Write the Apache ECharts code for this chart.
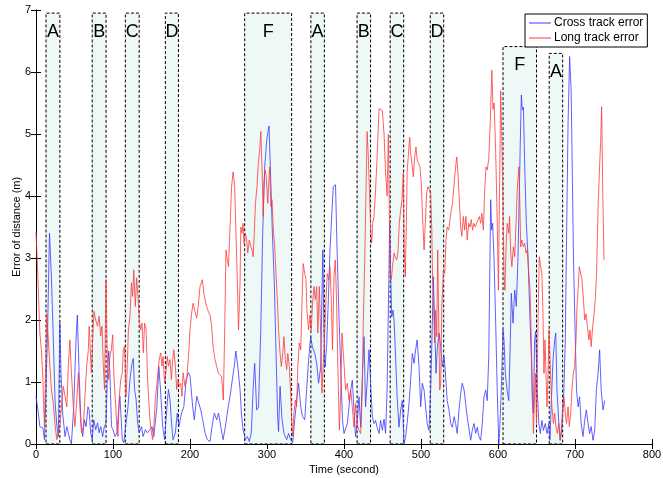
<!DOCTYPE html>
<html><head><meta charset="utf-8">
<script src="https://cdn.jsdelivr.net/npm/echarts@6/dist/echarts.min.js"></script>
<style>html,body{margin:0;padding:0;background:#fff}#c{width:663px;height:478px}</style>
</head><body><div id="c"></div>
<script>
// Cross track error (blue): time (s) and error (m)
const crossT = [0,3,5,9,11,13,15,17.5,20,22.5,24.7,27,29,31,32.5,34.6,37.7,40,42,44,46,49,52,53.7,56,58.4,60.6,63,65,67.5,69,71,73,75,77.5,80,82,84,86.6,88.7,91,92.6,94.4,96,98,100,102.6,105,107,109,112,114,117,119.5,122,124.7,126.4,128,130,132,134,137,139,142,144.6,148,150.6,153,157,159.5,162,164.5,167,170,172,174,176,178,181,183.5,185.7,189,192,195,198,200,203.5,205.6,208.7,211,214,216.5,219.5,222.5,226,228.6,231.6,234.6,237,240,243,246,249,252,255,257.6,259.5,262,265,267,269,272,274.5,277,279.6,282,284,286.6,289,291.8,294.4,297,299.6,302.6,305,307,309.5,311.7,313.8,315,317,319.5,322,325.6,328,330.8,333.4,336,338.5,341,343.8,346,349,351.5,354,356.7,359,362,364.5,367,369.7,372.5,374,375.5,377.5,379.6,381.8,384,386,389,391,393.5,395.7,398,400,404.3,408.7,410.8,413,415,417,419.5,421.7,423.8,426,428,430,432.5,434.6,436.8,439,441,443,445.5,447.6,449.8,452,454,456,458,459.3,460.6,462,463.6,465,467,469,471.4,473.6,475.7,478,480,482,484.4,486.6,488.7,491,493,495,497.4,499.6,501.7,504,506,508,510.4,512.6,514.7,516,517.7,519.5,521,523.4,525.6,527.7,530,532,534,536.4,538.6,540.7,543,545,547,549.4,551.6,553.6,556,558,560,562,564.5,566.6,568.8,571,573,575.3,577.5,579.6,581.8,584,586,588,589.6,590.5,591.8,593,594.8,597,599,601,602,604.3,606.5,607.8,609.5,611.7,614,616,617.3,619.5,621.7,623.8,626,627.3,629,630.3,631.6,633,634.7,636.8,639,641,643.3,644.6,646,647.6,649,651,653,655,657,659,661.4,663.6,666,667.5,669,671.4,673.6,675,676.6,679,681,683,685,687.4,689,691,693,695,696.5,698,700.4,702,704,706,708,710.4,712.6,714.7,717,719,721,723.4,725.6,727.7,730,732,734,736.4,738.6];
const crossV = [0.77,0.5,0.28,0.26,0.07,0.04,1.8,3.4,2.7,1.7,0.7,0.3,0.12,1.95,1.15,0.5,0.12,0.28,0.18,0.07,0,0.6,1.68,2.08,1.15,0.34,0.12,0.39,0.28,0.6,0.55,0.18,0.07,0.39,0.23,0.34,0.18,0.28,0.12,0.28,0.34,1.04,1.5,1.15,0.28,0.23,0.12,0.18,0.5,0.77,0.07,0.02,0.34,0.6,1.04,1.3,1.38,0.88,0.72,0.34,0.18,0.28,0.12,0.23,0.18,0.23,0.28,0.12,0.6,1.25,0.82,0.28,0.07,0.6,0.88,0.72,0.34,0.07,0.18,0.5,0.28,0.5,0.6,1.04,1.15,1.1,0.6,0.39,0.77,0.77,0.55,0.39,0.18,0.07,0.04,0.28,0.5,0.39,0.5,0.28,0.07,0.28,0.55,0.77,1.04,1.26,1.5,1.26,0.88,0.45,0.23,0.07,0.12,0.04,0.18,0.88,1.3,0.55,0.6,1.79,3.4,4.47,4.9,5.13,4.2,3.4,2.6,1.5,0.44,0.2,0.93,0.4,0.17,0.07,0.17,0.07,0.02,0.39,0.7,0.98,0.6,0.45,0.39,0.88,1.35,1.73,1.57,1.46,1.3,0.98,1.24,3.13,1.78,1.24,1.6,2.3,3.13,3.66,4.15,4.18,3.13,2.06,1.24,0.39,0.17,0.33,0.87,1.03,0.55,0.12,0.33,0.76,0.27,1.09,1.73,0.6,0.98,1.52,0.98,0.44,0.33,0.38,0.27,0.17,0.38,0.22,0.4,0.17,0.87,2.48,3.56,2.75,2.05,2.16,2.0,1.41,0.76,0.27,0.55,0.7,0,0.12,0.33,0.65,1.03,1.46,1.3,1.52,1.68,1.25,0.6,0.98,0.87,0.6,0.33,0.22,0.87,1.95,2.7,1.95,1.14,1.52,1.79,1.57,1.25,1.41,1.09,0.7,0.55,0.33,0.27,0.44,0.33,0.17,0.55,0.82,0.98,0.87,0.65,0.44,0.27,0.06,0.22,0.33,0.17,0.27,0.12,0.06,0.33,0.76,0.87,0.7,1.41,3.02,3.94,3.45,3.56,3.0,1.95,0.87,0,0.17,0.87,1.84,1.68,1.14,0.87,0.7,1.68,2.43,1.95,2.48,2.22,3.02,3.83,4.9,5.63,5.39,5.43,4.47,3.56,3.02,2.22,1.41,0.7,0.5,1.68,1.82,0.87,0.33,0.17,0.38,0.22,0.33,0.17,0.33,0.06,0.6,1.35,1.68,1.79,0.87,0.33,0.06,0.28,0.65,1.68,3.29,5.18,6.25,5.7,4.37,3.02,1.68,0.87,0.6,0.76,0.33,0.12,0.38,0.55,0.33,0.17,0.28,0.06,0.22,0.87,1.14,1.52,0.87,0.55,0.7];
// Long track error (red)
const longT = [0,1.5,3,5,7,9,10,11,12.5,14,16,18,20,22.5,25,27,29,31,33,35.5,37.7,40,42,44,46,48.5,50.6,53,55,57,59,61.5,63.6,65.8,68,69,70,71.8,73.6,75.3,77.5,80,82,84,85.7,87.4,89,91,92.6,94.4,96,97.8,99.6,101,103,105,106.5,108,110,112,113.4,115,117,118.6,120,122,124,125.5,127,129,130.7,132.5,134,136,137.7,139.4,141,143,144.6,146.3,148,150,151.5,153,155,156.7,158.4,160,162,163.6,165,167,169,170.5,172,174,175.8,177.5,179,181,182.7,184.4,186,188,189.6,191,193.5,195.7,198,200,202,204,206.5,208.7,210.8,213,216,218,221,224,226,228,230,232.5,234.7,236.8,239,241,243.3,245,246.7,248.5,250,252,254,256,258,259.7,261.5,263,265,266,267.5,269,270,272,273.6,275,277,279,280.5,282,283.5,285,287,288.7,290.5,292,293.5,295,296,297.4,299,301,302,303.5,305,306.5,308,310,311.7,313.4,315,317,318.6,320.4,322,323.8,325.6,327,329,330.8,332,333.4,335,336.8,338.5,340,342,343.8,345.5,347,349,350.6,352,354,355.8,357.5,359,361,362.7,364.5,366,368,369.7,371.4,373,375,376.6,378.3,380,381.8,383.5,385,387,388.7,390.5,392,394,395.7,397.4,400,402,404.3,406.5,408.7,410.8,413,415,417,419.5,421.7,423.8,425,427,428.6,430,431.6,433,434.6,436,437.3,439,441,443,445.5,447.6,449.8,452,454,456,457.6,458.8,460,461.4,463,465,466.6,468.4,470,471.8,473.6,475.3,477,478.3,479.6,481,482,484,485.3,486.6,488.3,490,491.8,493.5,495,497,498.7,500.4,502,504,505.6,507.4,509,510.8,512.6,514,515,516.5,517.7,519,520.4,521.7,523,524.3,525.6,527,529,530.8,532.5,534,536,537.7,539.4,541,543,544.6,546.4,548,549.7,551.6,553,555,556.7,558.4,560,562,563.6,565.3,567,568.8,570.5,572.3,574,575.7,577.5,579,581,582.7,584.4,586,588,590,592,593.5,595,597,599,600.5,603.5,605,606.5,607.8,609,610.8,612,614,615,616.5,618,620,621.7,623.4,625,627,628,629.5,631,633,634.7,636.4,638,640,641.6,643.3,644.6,646,647,648.5,650,651,652.3,653.6,655.4,657,658.4,659.7,661,662.3,663.6,665,666.2,667.5,669,670,672,673.6,675.3,677,679,680.5,682,684,685.7,687.4,689,691,692.6,694.4,696,697.8,699.6,701.3,702.6,704,705.6,707.4,709,711,712.6,714.3,716,718,719.5,721,723,724.7,726.4,728,730,731.6,733.4,734.6,736,737.7];
const longV = [3.42,3.0,2.49,1.79,1.52,1.04,0.6,0.28,1.26,2.1,1.68,1.26,0.88,0.66,0.28,0.07,0.07,0.28,0.6,0.93,0.77,0.6,1.26,1.68,1.15,0.6,0.28,0.72,1.15,0.6,0.18,0.28,0.77,1.26,1.52,1.9,1.68,1.15,1.68,2.14,2.0,1.9,2.06,1.74,1.9,1.26,0.88,2.65,1.41,1.04,1.41,1.52,1.76,1.15,0.72,0.28,0.12,0.72,1.04,1.15,1.52,1.58,0.77,1.3,1.84,2.06,2.6,2.38,2.81,2.22,2.68,2.38,2.0,1.84,1.95,1.47,1.95,1.84,1.15,0.72,0.39,0.18,0.07,0.28,0.72,0.93,1.15,1.36,1.47,1.26,1.41,0.98,1.2,1.41,1.26,1.36,1.04,1.36,1.52,1.26,0.88,1.04,0.93,0.98,0.77,1.15,0.93,1.04,1.41,1.84,2.1,2.27,2.13,2.03,2.24,2.54,2.65,2.43,2.24,2.13,2.08,1.92,1.57,1.36,1.25,1.14,1.14,1.09,0.71,1.79,3.13,2.97,2.86,3.5,4.15,4.39,4.15,3.4,2.6,1.84,2.6,3.5,3.4,3.56,3.24,3.4,3.29,3.08,3.29,3.18,3.13,3.02,3.4,3.88,4.15,4.53,4.74,5.04,4.47,3.67,4.2,4.42,4.31,3.88,4.15,4.47,3.83,3.94,3.5,3.18,2.75,2.33,1.84,1.46,1.25,1.46,1.73,1.36,1.2,1.46,1.25,0.82,0.39,0.12,0.5,0.71,0.6,1.25,1.63,1.52,2.33,2.91,2.75,2.65,2.13,1.84,2.08,1.84,2.24,2.54,2.33,2.54,1.79,2.54,1.79,0.82,1.25,1.79,2.33,2.75,2.65,2.86,2.33,1.52,2.7,2.97,2.24,1.25,0.23,0.82,1.79,1.3,0.87,0.98,0.7,0.87,0.6,0.27,0.65,0.33,0.22,0.17,0.87,1.95,3.02,4.1,5.04,4.63,4.1,3.45,3.24,3.56,3.67,4.1,4.63,5.41,5.43,5.38,5.0,4.37,4.0,5.0,3.83,2.7,2.65,2.86,3.08,3.02,2.97,3.08,3.56,3.78,3.94,4.37,3.13,2.7,3.56,4.37,4.74,4.95,4.68,4.52,4.31,4.63,4.79,4.58,4.52,4.47,4.2,3.67,3.13,3.56,4.05,4.15,4.1,4.05,3.45,2.7,2.16,1.63,2.16,1.73,3.13,1.95,0.87,0.98,2.2,2.8,2.75,3.29,3.5,3.45,3.62,3.78,3.89,4.2,4.42,4.63,4.37,3.94,3.5,3.35,3.67,3.45,3.67,3.29,3.56,3.5,3.62,3.45,3.56,3.5,3.56,3.62,3.67,3.56,3.72,3.45,4.1,4.47,4.42,4.6,5.2,6.03,5.4,5.5,4.7,3.6,2.48,5.7,4.9,3.83,2.75,2.48,3.29,3.56,3.4,3.67,3.08,2.86,3.18,3.02,3.56,4.1,4.47,4.1,3.18,3.29,3.18,3.24,3.08,3.13,2.75,2.48,1.68,0.87,0.17,0.6,1.14,0.33,1.14,2.22,3.02,2.86,2.75,2.1,1.14,1.68,1.14,0.6,1.14,1.84,1.41,0.87,0.6,0.33,0.5,0.28,0.17,0.33,0.06,0.17,0.6,0.76,0.5,0.33,0.6,0.28,0.5,0.87,1.14,1.25,1.68,2.22,2.48,2.86,2.86,2.65,2.33,2.0,2.1,1.9,1.68,1.84,1.57,1.9,2.1,2.33,2.75,3.83,4.37,4.9,5.44,4.1,2.97];
// Highlighted phases
const boxLabels = ['A','B','C','D','F','A','B','C','D','F','A'];
const boxStart = [13,73,116,168,271,357,417,460,512,606.5,666.5];
const boxEnd = [31,91,134,185,332,374.5,434.5,477.5,529.5,650,684];
const boxTop = [6.95,6.95,6.95,6.95,6.95,6.95,6.95,6.95,6.95,6.41,6.3];
const xTicks = [0,100,200,300,400,500,600,700,800];
const yTicks = [0,1,2,3,4,5,6,7];

const pair = (t, v) => t.map((x, i) => [x, v[i]]);
const FONT = 'Liberation Sans, Arial, sans-serif';
const areaData = boxLabels.map((l, i) => [
  {name: l, xAxis: boxStart[i], yAxis: 0},
  {xAxis: boxEnd[i], yAxis: boxTop[i]}
]);

const chart = echarts.init(document.getElementById('c'), null, {renderer: 'canvas'});
const xBase = {type: 'value', min: xTicks[0], max: xTicks[xTicks.length-1], interval: 100,
  splitLine: {show: false}, axisLine: {lineStyle: {color: '#000', width: 1}},
  axisTick: {inside: true, length: 5, lineStyle: {color: '#000'}}};
const yBase = {type: 'value', min: yTicks[0], max: yTicks[yTicks.length-1], interval: 1,
  splitLine: {show: false}, axisLine: {lineStyle: {color: '#000', width: 1}},
  axisTick: {inside: true, length: 5, lineStyle: {color: '#000'}}};
chart.setOption({
  animation: false,
  backgroundColor: '#fff',
  grid: {left: 36, right: 11, top: 10, bottom: 34, containLabel: false, outerBoundsMode: 'none'},
  xAxis: [
    Object.assign({}, xBase, {position: 'bottom', name: 'Time (second)', nameLocation: 'middle', nameGap: 19,
      nameTextStyle: {color: '#000', fontSize: 11, fontFamily: FONT},
      axisLabel: {color: '#000', fontSize: 11, fontFamily: FONT, margin: 5}}),
    Object.assign({}, xBase, {position: 'top', axisLabel: {show: false}})
  ],
  yAxis: [
    Object.assign({}, yBase, {position: 'left', name: 'Error of distance (m)', nameLocation: 'middle', nameGap: 14,
      nameMoveOverlap: false,
      nameTextStyle: {color: '#000', fontSize: 11, fontFamily: FONT},
      axisLabel: {color: '#000', fontSize: 11, fontFamily: FONT, margin: 5}}),
    Object.assign({}, yBase, {position: 'right', axisLabel: {show: false}})
  ],
  legend: {
    orient: 'vertical', left: 525, top: 14, width: 124,
    backgroundColor: '#fff', borderColor: '#000', borderWidth: 1,
    padding: [3, 4, 3, 4], itemGap: 3, itemWidth: 22, itemHeight: 1, icon: 'rect',
    textStyle: {color: '#000', fontSize: 12, fontFamily: FONT, padding: [0, 0, 0, -2]},
    data: ['Cross track error', 'Long track error']
  },
  series: [
    {type: 'line', name: 'boxes', data: [], z: 1, silent: true,
      markArea: {silent: true,
        itemStyle: {color: '#eef8f7', borderColor: '#000', borderWidth: 1, borderType: [3, 2]},
        label: {show: true, position: 'insideTop', distance: 10, color: '#000', fontSize: 18, fontFamily: FONT},
        data: areaData}},
    {type: 'line', name: 'Cross track error', data: pair(crossT, crossV), symbol: 'none', z: 3,
      lineStyle: {color: '#3a3aff', width: 1, opacity: 0.8}, itemStyle: {color: '#3a3aff'}},
    {type: 'line', name: 'Long track error', data: pair(longT, longV), symbol: 'none', z: 4,
      lineStyle: {color: '#ff3a3a', width: 1, opacity: 0.8}, itemStyle: {color: '#ff3a3a'}}
  ]
});
</script></body></html>
